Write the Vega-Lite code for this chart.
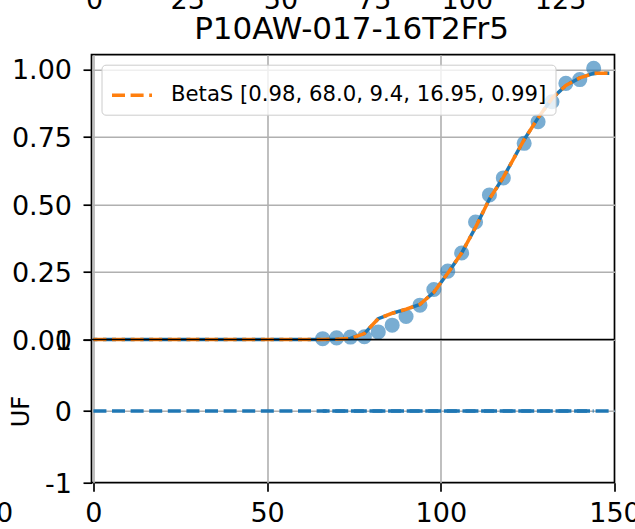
{
  "$schema": "https://vega.github.io/schema/vega-lite/v6.json",
  "autosize": {"type": "none"},
  "width": 523,
  "height": 428,
  "padding": {"left": 91.5, "top": 54.7, "right": 20.5, "bottom": 46.3},
  "background": "white",
  "config": {
    "font": "DejaVu Sans",
    "view": {"stroke": "black", "strokeWidth": 1.7},
    "axis": {
      "domain": false,
      "tickColor": "black",
      "tickWidth": 1.7,
      "tickSize": 8.5,
      "labelColor": "black",
      "labelFont": "DejaVu Sans",
      "labelFontSize": 27,
      "titleFont": "DejaVu Sans",
      "titleColor": "black",
      "titleFontWeight": "normal",
      "gridColor": "#b0b0b0",
      "gridWidth": 1.6,
      "labelFlush": false,
      "labelOverlap": false
    },
    "legend": {
      "orient": "top-left",
      "offset": 9.5,
      "padding": 8.5,
      "fillColor": "rgba(255,255,255,0.8)",
      "strokeColor": "#cccccc",
      "cornerRadius": 4,
      "labelFont": "DejaVu Sans",
      "labelFontSize": 21.2,
      "labelColor": "black",
      "labelLimit": 700,
      "labelOffset": 17,
      "symbolType": "stroke",
      "symbolStrokeWidth": 3.5,
      "symbolDash": [13, 5.6],
      "symbolSize": 1600
    }
  },
  "datasets": {
    "obs": [
      {"das": 66, "frac": 0.003},
      {"das": 70, "frac": 0.006},
      {"das": 74, "frac": 0.009},
      {"das": 78, "frac": 0.01},
      {"das": 82, "frac": 0.028},
      {"das": 86, "frac": 0.053},
      {"das": 90, "frac": 0.085},
      {"das": 94, "frac": 0.127},
      {"das": 98, "frac": 0.185},
      {"das": 102, "frac": 0.253},
      {"das": 106, "frac": 0.32},
      {"das": 110, "frac": 0.435},
      {"das": 114, "frac": 0.535},
      {"das": 118, "frac": 0.598},
      {"das": 124, "frac": 0.726},
      {"das": 128, "frac": 0.806},
      {"das": 132, "frac": 0.88},
      {"das": 136, "frac": 0.948},
      {"das": 140, "frac": 0.962},
      {"das": 144, "frac": 1.004}
    ],
    "fit": [
      {"das": 0, "frac": 0},
      {"das": 66, "frac": 0},
      {"das": 70, "frac": 0.001},
      {"das": 74, "frac": 0.004},
      {"das": 78, "frac": 0.022},
      {"das": 82, "frac": 0.077},
      {"das": 86, "frac": 0.097},
      {"das": 90, "frac": 0.112},
      {"das": 94, "frac": 0.13},
      {"das": 98, "frac": 0.175},
      {"das": 102, "frac": 0.245},
      {"das": 106, "frac": 0.32},
      {"das": 110, "frac": 0.415},
      {"das": 114, "frac": 0.52},
      {"das": 118, "frac": 0.6},
      {"das": 124, "frac": 0.74},
      {"das": 128, "frac": 0.82},
      {"das": 132, "frac": 0.892},
      {"das": 136, "frac": 0.94},
      {"das": 140, "frac": 0.968},
      {"das": 144, "frac": 0.985},
      {"das": 148.5, "frac": 0.985}
    ],
    "ufAll": [
      {"das": 0, "uf": 0},
      {"das": 150, "uf": 0}
    ],
    "ufObs": [
      {"das": 66, "uf": 0}, {"das": 70, "uf": 0}, {"das": 74, "uf": 0}, {"das": 78, "uf": 0},
      {"das": 82, "uf": 0}, {"das": 86, "uf": 0}, {"das": 90, "uf": 0}, {"das": 94, "uf": 0},
      {"das": 98, "uf": 0}, {"das": 102, "uf": 0}, {"das": 106, "uf": 0}, {"das": 110, "uf": 0},
      {"das": 114, "uf": 0}, {"das": 118, "uf": 0}, {"das": 124, "uf": 0}, {"das": 128, "uf": 0},
      {"das": 132, "uf": 0}, {"das": 136, "uf": 0}, {"das": 140, "uf": 0}, {"das": 144, "uf": 0}
    ],
    "midline": [{"frac": 0}],
    "toplab": [{"t": 0}, {"t": 125}],
    "leftlab": [{"t": 150}, {"t": 300}]
  },
  "layer": [
    {
      "layer": [
        {
          "data": {"name": "obs"},
          "mark": {"type": "point", "filled": true, "color": "#1f77b4", "opacity": 0.6, "size": 227, "strokeWidth": 0},
          "encoding": {
            "x": {
              "field": "das", "type": "quantitative",
              "scale": {"domain": [-0.55, 150], "nice": false, "zero": false},
              "axis": {
                "orient": "top", "labels": false, "ticks": false, "grid": false,
                "title": "P10AW-017-16T2Fr5", "titleFontSize": 31,
                "titleX": 259.5, "titleY": -16.4, "titleBaseline": "alphabetic", "titleAlign": "center"
              }
            },
            "y": {
              "field": "frac", "type": "quantitative",
              "scale": {"domain": [-0.53, 1.054], "nice": false, "zero": false},
              "axis": {
                "orient": "left", "values": [0, 0.25, 0.5, 0.75, 1], "format": ".2f",
                "grid": true, "title": null, "labelPadding": 11.5, "labelOffset": 1.7
              }
            }
          }
        },
        {
          "data": {"name": "fit"},
          "mark": {"type": "line", "color": "#1f77b4", "strokeWidth": 3.5, "strokeDash": [13, 5.6], "strokeDashOffset": 9},
          "encoding": {
            "x": {"field": "das", "type": "quantitative"},
            "y": {"field": "frac", "type": "quantitative"}
          }
        },
        {
          "data": {"name": "fit"},
          "mark": {"type": "line", "strokeWidth": 3.5, "strokeDash": [13, 5.6]},
          "encoding": {
            "x": {"field": "das", "type": "quantitative"},
            "y": {"field": "frac", "type": "quantitative"},
            "color": {
              "datum": "BetaS [0.98, 68.0, 9.4, 16.95, 0.99]", "type": "nominal",
              "scale": {"range": ["#ff7f0e"]},
              "legend": {"title": null}
            }
          }
        },
        {
          "data": {"name": "midline"},
          "mark": {"type": "rule", "color": "black", "strokeWidth": 1.7},
          "encoding": {
            "y": {"field": "frac", "type": "quantitative"}
          }
        }
      ]
    },
    {
      "data": {"name": "obs"},
      "mark": {"type": "point", "opacity": 0},
      "encoding": {
        "x": {
          "field": "das", "type": "quantitative",
          "scale": {"domain": [-0.55, 150], "nice": false, "zero": false},
          "axis": {"orient": "bottom", "values": [0, 50, 100], "grid": true, "labels": false, "ticks": false, "title": null}
        },
        "y": {
          "field": "frac", "type": "quantitative",
          "scale": {"domain": [-1, 4.978], "nice": false, "zero": false},
          "axis": {"orient": "left", "values": [0], "grid": true, "labels": false, "ticks": false, "title": null}
        }
      }
    },
    {
      "layer": [
        {
          "data": {"name": "ufAll"},
          "mark": {"type": "line", "color": "#1f77b4", "strokeWidth": 3.5, "strokeDash": [13, 5.6]},
          "encoding": {
            "x": {
              "field": "das", "type": "quantitative",
              "scale": {"domain": [-0.55, 150], "nice": false, "zero": false},
              "axis": {
                "orient": "bottom", "values": [0, 50, 100, 150], "grid": false, "labelPadding": 9,
                "title": "DAYS AFTER SOWING", "titleFontSize": 27,
                "titleX": 258, "titleY": 66, "titleBaseline": "alphabetic", "titleAlign": "center"
              }
            },
            "y": {
              "field": "uf", "type": "quantitative",
              "scale": {"domain": [-1, 4.978], "nice": false, "zero": false},
              "axis": {
                "orient": "left", "values": [-1, 0, 1], "grid": false,
                "labelExpr": "toString(datum.value)", "labelPadding": 11.5, "labelOffset": 1.7,
                "title": "UF", "titleFontSize": 24, "titleAngle": -90,
                "titleX": -70, "titleY": 356.4, "titleBaseline": "middle", "titleAlign": "center"
              }
            }
          }
        },
        {
          "data": {"name": "ufObs"},
          "mark": {"type": "line", "color": "#1f77b4", "strokeWidth": 3.5, "strokeDash": [13, 5.6], "strokeDashOffset": 9},
          "encoding": {
            "x": {"field": "das", "type": "quantitative"},
            "y": {"field": "uf", "type": "quantitative"}
          }
        }
      ]
    },
    {
      "data": {"name": "toplab"},
      "mark": {"type": "point", "opacity": 0},
      "encoding": {
        "x": {
          "field": "t", "type": "quantitative",
          "scale": {"domain": [-0.67, 139.6], "nice": false, "zero": false},
          "axis": {
            "orient": "top", "values": [0, 25, 50, 75, 100, 125], "ticks": false, "tickSize": 0,
            "grid": false, "labelPadding": 46.7, "labelBaseline": "alphabetic", "title": null
          }
        }
      }
    },
    {
      "data": {"name": "leftlab"},
      "mark": {"type": "point", "opacity": 0},
      "encoding": {
        "x": {
          "field": "t", "type": "quantitative",
          "scale": {"domain": [150, 300], "nice": false, "zero": false},
          "axis": {
            "orient": "bottom", "values": [150], "ticks": false, "tickSize": 0,
            "grid": false, "labelPadding": 17.5, "labelOffset": -104.5, "title": null
          }
        }
      }
    }
  ],
  "resolve": {
    "scale": {"x": "independent", "y": "independent", "color": "independent"},
    "axis": {"x": "independent", "y": "independent"}
  }
}
